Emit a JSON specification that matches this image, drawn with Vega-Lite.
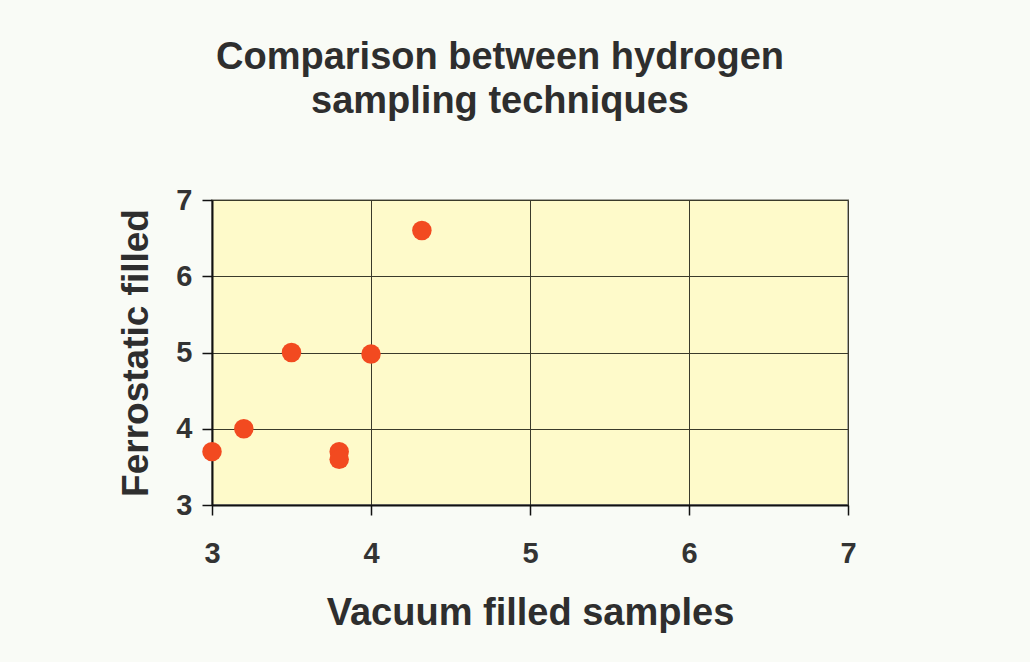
{
  "$schema": "https://vega.github.io/schema/vega-lite/v6.json",
  "autosize": {"type": "none"},
  "width": 636,
  "height": 305,
  "padding": {"left": 212, "top": 200, "right": 182, "bottom": 157},
  "background": "#f9fbf6",
  "title": {
    "text": ["Comparison between hydrogen", "sampling techniques"],
    "font": "Liberation Sans",
    "fontSize": 38,
    "fontWeight": "bold",
    "color": "#2e2e2e",
    "lineHeight": 44,
    "anchor": "middle",
    "dx": -30,
    "offset": 65
  },
  "data": {
    "values": [
      {"vacuum": 3.0, "ferrostatic": 3.7},
      {"vacuum": 3.2, "ferrostatic": 4.0},
      {"vacuum": 3.5, "ferrostatic": 5.0},
      {"vacuum": 3.8, "ferrostatic": 3.7},
      {"vacuum": 3.8, "ferrostatic": 3.6},
      {"vacuum": 4.0, "ferrostatic": 4.98},
      {"vacuum": 4.32, "ferrostatic": 6.6}
    ]
  },
  "mark": {"type": "circle", "size": 380, "color": "#f24a20", "opacity": 1},
  "encoding": {
    "x": {
      "field": "vacuum",
      "type": "quantitative",
      "scale": {"domain": [3, 7], "nice": false, "zero": false},
      "axis": {
        "title": "Vacuum filled samples",
        "values": [3, 4, 5, 6, 7],
        "format": "d",
        "labelFlush": false,
        "grid": true,
        "gridColor": "#3a3a2a",
        "gridWidth": 1,
        "gridOpacity": 1,
        "domainColor": "#111111",
        "domainWidth": 2,
        "tickColor": "#111111",
        "tickWidth": 1.5,
        "tickSize": 10,
        "labelFont": "Liberation Sans",
        "labelFontSize": 29,
        "labelFontWeight": "bold",
        "labelColor": "#333333",
        "labelPadding": 24,
        "titleFont": "Liberation Sans",
        "titleFontSize": 38,
        "titleFontWeight": "bold",
        "titleColor": "#2e2e2e",
        "titlePadding": 26
      }
    },
    "y": {
      "field": "ferrostatic",
      "type": "quantitative",
      "scale": {"domain": [3, 7], "nice": false, "zero": false},
      "axis": {
        "title": "Ferrostatic filled",
        "values": [3, 4, 5, 6, 7],
        "format": "d",
        "labelFlush": false,
        "grid": true,
        "gridColor": "#3a3a2a",
        "gridWidth": 1,
        "gridOpacity": 1,
        "domainColor": "#111111",
        "domainWidth": 2,
        "tickColor": "#111111",
        "tickWidth": 1.5,
        "tickSize": 10,
        "labelFont": "Liberation Sans",
        "labelFontSize": 29,
        "labelFontWeight": "bold",
        "labelColor": "#333333",
        "labelPadding": 10,
        "titleFont": "Liberation Sans",
        "titleFontSize": 37,
        "titleFontWeight": "bold",
        "titleColor": "#2e2e2e",
        "titlePadding": 20
      }
    }
  },
  "config": {
    "view": {"fill": "#fefaca", "stroke": "#a8a8a0", "strokeWidth": 2}
  }
}
